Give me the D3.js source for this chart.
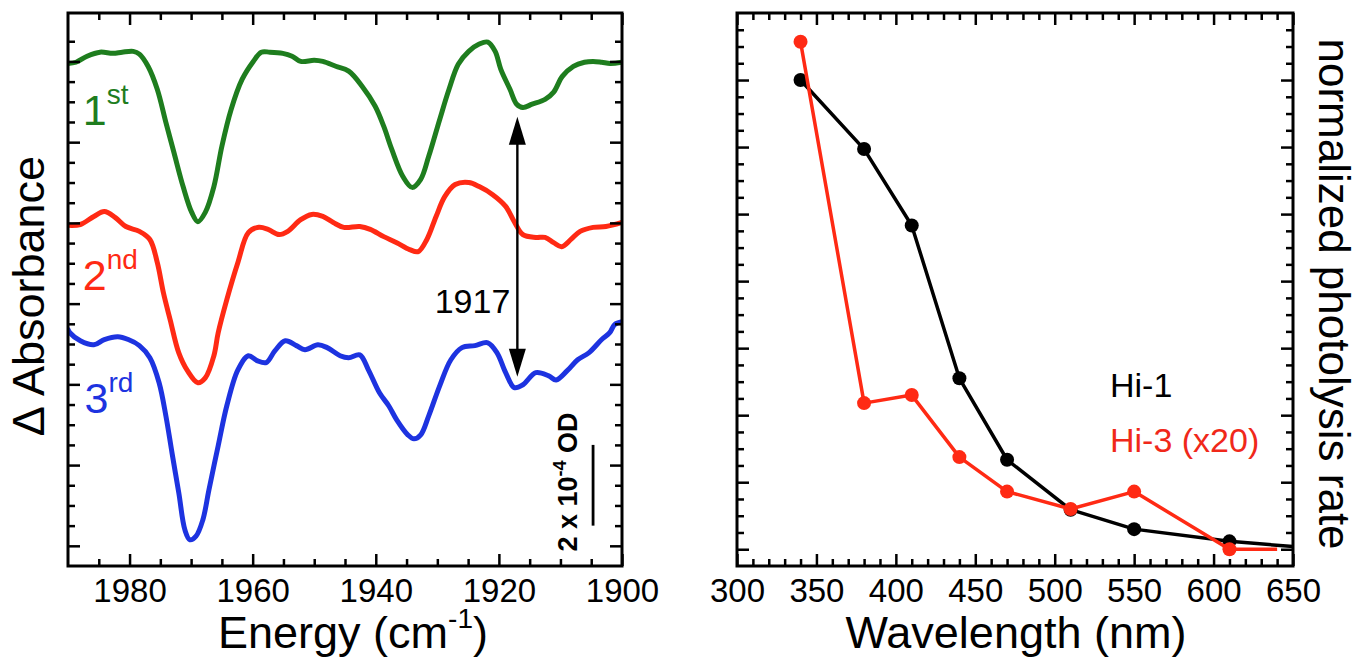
<!DOCTYPE html>
<html><head><meta charset="utf-8">
<script src="https://cdn.jsdelivr.net/npm/d3@7"></script>
<style>
html,body{margin:0;padding:0;background:#fff;}
text{font-family:"Liberation Sans",Arial,Helvetica,sans-serif;}
</style></head>
<body><svg id="c" width="1359" height="666"></svg>
<script>
// ---------------- DATA ----------------
// Left panel: IR difference spectra (energy in cm^-1, value in 10^-4 OD units incl. vertical offset)
const green1st = [[1990,11.95],[1988.7,11.98],[1986.9,12.13],[1984.8,12.23],[1982.7,12.20],[1981.2,12.23],[1979.4,12.25],[1978.4,12.18],[1977.0,11.88],[1975.5,11.31],[1974.1,10.49],[1972.8,9.75],[1971.3,8.90],[1969.9,8.26],[1968.9,8.03],[1967.7,8.26],[1966.3,8.90],[1965.0,9.90],[1963.5,10.81],[1961.7,11.56],[1959.9,12.00],[1958.6,12.23],[1957.2,12.23],[1955.1,12.20],[1953.6,12.13],[1952.2,12.00],[1950.0,12.03],[1948.6,12.00],[1946.5,11.88],[1944.4,11.76],[1942.2,11.38],[1940.1,10.89],[1938.7,10.39],[1937.4,9.82],[1935.6,9.15],[1934.1,8.88],[1932.7,9.08],[1931.4,9.65],[1929.6,10.57],[1928.1,11.31],[1926.6,11.93],[1924.9,12.25],[1923.2,12.43],[1921.8,12.48],[1920.6,12.25],[1919.7,11.81],[1918.2,11.31],[1917.1,10.94],[1916.1,10.86],[1914.6,10.94],[1912.5,11.06],[1911.1,11.24],[1909.7,11.63],[1907.9,11.88],[1906.1,11.98],[1904.7,12.00],[1903.3,11.98],[1901.9,11.95],[1900,11.98]];
const red2nd = [[1990,7.94],[1988.0,7.96],[1985.8,8.16],[1984.1,8.28],[1982.3,8.13],[1980.6,7.91],[1978.4,7.79],[1976.7,7.59],[1975.5,7.02],[1974.5,6.27],[1973.4,5.60],[1972.0,4.78],[1970.6,4.34],[1968.9,4.04],[1967.7,4.16],[1966.3,4.71],[1965.6,5.28],[1964.2,6.10],[1962.4,7.02],[1960.7,7.76],[1959.0,7.89],[1957.5,7.84],[1955.7,7.71],[1954.3,7.79],[1952.2,8.08],[1950.4,8.21],[1948.6,8.16],[1946.9,8.01],[1945.2,7.89],[1942.6,7.91],[1940.9,7.84],[1938.7,7.66],[1936.6,7.51],[1934.5,7.34],[1933.1,7.29],[1931.7,7.59],[1930.2,8.16],[1928.8,8.65],[1927.1,8.95],[1924.9,9.00],[1923.2,8.90],[1921.0,8.70],[1918.9,8.41],[1917.5,8.03],[1916.1,7.71],[1914.0,7.64],[1912.5,7.64],[1911.1,7.51],[1909.8,7.41],[1908.3,7.59],[1906.8,7.79],[1904.7,7.89],[1902.6,7.91],[1900,8.01]];
const blue3rd = [[1990,5.36],[1989.7,5.28],[1988.0,5.08],[1985.8,4.98],[1984.1,5.11],[1981.9,5.18],[1980.2,5.11],[1978.4,4.96],[1976.7,4.66],[1975.2,4.04],[1974.1,3.22],[1973.1,2.30],[1972.0,1.31],[1971.0,0.39],[1970.2,0.15],[1969.2,0.24],[1968.1,0.64],[1967.1,1.39],[1965.6,2.48],[1964.2,3.47],[1962.4,4.36],[1960.7,4.71],[1959.3,4.59],[1957.8,4.54],[1956.4,4.83],[1954.7,5.08],[1952.9,4.96],[1951.5,4.86],[1949.4,4.98],[1947.9,4.91],[1945.8,4.71],[1944.4,4.66],[1942.6,4.73],[1941.2,4.36],[1939.4,3.79],[1937.9,3.47],[1936.6,3.12],[1934.8,2.75],[1933.8,2.65],[1932.7,2.75],[1931.4,3.22],[1929.6,3.97],[1927.8,4.61],[1926.0,4.91],[1923.9,4.96],[1921.8,5.03],[1920.3,4.78],[1918.9,4.29],[1917.5,3.92],[1916.1,3.99],[1914.0,4.29],[1911.9,4.21],[1910.7,4.11],[1908.9,4.34],[1907.2,4.61],[1905.4,4.78],[1903.3,5.11],[1902.0,5.28],[1901.2,5.48],[1900,5.55]];
const energyTicks = [1980,1960,1940,1920,1900];
const energyTickLabels = ["1980","1960","1940","1920","1900"];
const absMajorTicks = [0,2,4,6,8,10,12];
const traceLabels = [
  {base:"1", sup:"st", E:1987.6, v:10.42},
  {base:"2", sup:"nd", E:1987.6, v:6.33},
  {base:"3", sup:"rd", E:1987.3, v:3.30}
];
const arrowE = 1917, arrowTop = 10.63, arrowBottom = 4.19, arrowLabel = "1917";
const scaleBarE = 1904.7, scaleBarFrom = 0.5, scaleBarTo = 2.5;

// Right panel: normalized photolysis rate vs wavelength
const wavelengths = [340,380,410,440,470,510,550,610,650];
const hi1Rate = [7.00,5.97,4.83,2.55,1.335,0.59,0.30,0.118,0.04];
const wavelengths3 = [340,380,410,440,470,510,550,610,640];
const hi3Rate = [7.57,2.18,2.30,1.375,0.86,0.60,0.86,0.0,0.0];
const markerMaxWl = 610;
const wlTicks = [300,350,400,450,500,550,600,650];
const wlTickLabels = ["300","350","400","450","500","550","600","650"];
const rateMajorTicks = [0,1,2,3,4,5,6,7];
const legendItems = [{text:"Hi-1", color:"#000000"},{text:"Hi-3 (x20)", color:"#f0281a"}];

// ---------------- DRAW ----------------
const svg = d3.select("#c");
const GREEN="#1e7d1e", RED="#ff2a14", BLUE="#1d33e0";
const yTop=13, yBot=566;

const xL = d3.scaleLinear().domain([1990,1900]).range([68,622]);
const yL = d3.scaleLinear().domain([-0.5,13.2]).range([yBot,yTop]);
const xR = d3.scaleLinear().domain([300,650]).range([737,1293]);
const yR = d3.scaleLinear().domain([-0.25,8]).range([yBot,yTop]);

function frame(x, y, xMajor, xMinor, yMajor, yMinor, labels, pad){
  const g = svg.append("g");
  const [x0,x1] = x.range(), y0 = y.range()[1], y1 = y.range()[0];
  const add = (axis, tx, ty, keepText) => {
    const a = g.append("g").attr("transform",`translate(${tx},${ty})`).call(axis);
    a.select(".domain").remove();
    a.selectAll(".tick line").attr("stroke","#000").attr("stroke-width",2.5);
    if(!keepText) a.selectAll(".tick text").remove();
    return a;
  };
  add(d3.axisBottom(x).tickValues(xMinor).tickSize(-7),0,y1);
  const b = add(d3.axisBottom(x).tickValues(xMajor).tickSize(-12).tickPadding(pad).tickFormat((d,i)=>labels[i]),0,y1,true);
  b.selectAll("text").attr("font-size",33).attr("fill","#000").attr("font-family",'"Liberation Sans",Arial,sans-serif');
  add(d3.axisTop(x).tickValues(xMinor).tickSize(-7),0,y0);
  add(d3.axisTop(x).tickValues(xMajor).tickSize(-12),0,y0);
  add(d3.axisLeft(y).tickValues(yMinor).tickSize(-7),x0,0);
  add(d3.axisLeft(y).tickValues(yMajor).tickSize(-12),x0,0);
  add(d3.axisRight(y).tickValues(yMinor).tickSize(-7),x1,0);
  add(d3.axisRight(y).tickValues(yMajor).tickSize(-12),x1,0);
  g.append("rect").attr("x",x0).attr("y",y0).attr("width",x1-x0).attr("height",y1-y0)
    .attr("fill","none").attr("stroke","#000").attr("stroke-width",3);
  return g;
}

// clip paths
const defs = svg.append("defs");
defs.append("clipPath").attr("id","clipL").append("rect").attr("x",68).attr("y",yTop).attr("width",554).attr("height",yBot-yTop);
defs.append("clipPath").attr("id","clipR").append("rect").attr("x",737).attr("y",yTop).attr("width",556).attr("height",yBot-yTop);

// ---- Left panel
const lineL = d3.line().x(d=>xL(d[0])).y(d=>yL(d[1])).curve(d3.curveCatmullRom.alpha(0.5));
const gl = svg.append("g").attr("clip-path","url(#clipL)");
[[green1st,GREEN],[red2nd,RED],[blue3rd,BLUE]].forEach(([data,col])=>{
  gl.append("path").datum(data).attr("d",lineL).attr("fill","none").attr("stroke",col)
    .attr("stroke-width",5).attr("stroke-linejoin","round").attr("stroke-linecap","round");
});
frame(xL,yL,energyTicks,d3.range(1985,1900,-5).filter(v=>v%20!==0),absMajorTicks,d3.range(1,26).map(i=>i*0.5).filter(v=>v%2!==0),energyTickLabels,13);

// trace labels
const labCols=[GREEN,RED,BLUE];
traceLabels.forEach((t,i)=>{
  const tx = svg.append("text").attr("x",xL(t.E)).attr("y",yL(t.v)).attr("fill",labCols[i]).attr("font-size",43);
  tx.append("tspan").text(t.base);
  tx.append("tspan").attr("dy",-21).attr("font-size",28).text(t.sup);
});

// arrow 1917
const ax = xL(arrowE), ayT = yL(arrowTop), ayB = yL(arrowBottom);
svg.append("line").attr("x1",ax).attr("x2",ax).attr("y1",ayT+20).attr("y2",ayB-20).attr("stroke","#000").attr("stroke-width",2.4);
svg.append("path").attr("d",`M${ax},${ayT} L${ax-8.5},${ayT+28} L${ax+8.5},${ayT+28} Z`).attr("fill","#000");
svg.append("path").attr("d",`M${ax},${ayB} L${ax-8.5},${ayB-28} L${ax+8.5},${ayB-28} Z`).attr("fill","#000");
svg.append("text").attr("x",ax-7).attr("y",313).attr("text-anchor","end").attr("font-size",34).attr("fill","#000").text(arrowLabel);

// scale bar
const sbx = xL(scaleBarE);
svg.append("line").attr("x1",sbx).attr("x2",sbx).attr("y1",yL(scaleBarTo)).attr("y2",yL(scaleBarFrom)).attr("stroke","#000").attr("stroke-width",2.8);
const sbt = svg.append("text").attr("transform",`translate(577,482) rotate(-90)`).attr("text-anchor","middle")
  .attr("font-size",27).attr("font-weight","bold").attr("fill","#000");
sbt.append("tspan").text("2 x 10");
sbt.append("tspan").attr("dy",-11).attr("font-size",18).text("-4");
sbt.append("tspan").attr("dy",11).text(" OD");

// axis titles left
svg.append("text").attr("transform","translate(44,296) rotate(-90)").attr("text-anchor","middle")
  .attr("font-size",45).attr("fill","#000").text("\u0394 Absorbance");
const et = svg.append("text").attr("x",353).attr("y",648).attr("text-anchor","middle").attr("font-size",45).attr("fill","#000");
et.append("tspan").text("Energy (cm");
et.append("tspan").attr("dy",-20).attr("font-size",28).text("-1");
et.append("tspan").attr("dy",20).text(")");

// ---- Right panel
const gr = svg.append("g").attr("clip-path","url(#clipR)");
const lineR = d3.line().x(d=>xR(d[0])).y(d=>yR(d[1]));
const hi1 = wavelengths.map((w,i)=>[w,hi1Rate[i]]);
const hi3 = wavelengths3.map((w,i)=>[w,hi3Rate[i]]);
gr.append("path").datum(hi1).attr("d",lineR).attr("fill","none").attr("stroke","#000").attr("stroke-width",3.5).attr("stroke-linejoin","round");
gr.selectAll("circle.h1").data(hi1.filter(d=>d[0]<=markerMaxWl)).join("circle").attr("class","h1")
  .attr("cx",d=>xR(d[0])).attr("cy",d=>yR(d[1])).attr("r",7).attr("fill","#000");
gr.append("path").datum(hi3).attr("d",lineR).attr("fill","none").attr("stroke",RED).attr("stroke-width",3.5).attr("stroke-linejoin","round");
gr.selectAll("circle.h3").data(hi3.filter(d=>d[0]<=markerMaxWl)).join("circle").attr("class","h3")
  .attr("cx",d=>xR(d[0])).attr("cy",d=>yR(d[1])).attr("r",7).attr("fill",RED);
frame(xR,yR,wlTicks,d3.range(31,65).map(i=>i*10).filter(v=>v%50!==0),rateMajorTicks,d3.range(1,32).map(i=>i*0.25).filter(v=>v%1!==0),wlTickLabels,13);

// legend
legendItems.forEach((l,i)=>{
  svg.append("text").attr("x",1110).attr("y",397+i*55).attr("font-size",34).attr("fill",l.color).text(l.text);
});

// titles right
svg.append("text").attr("x",1016).attr("y",648).attr("text-anchor","middle").attr("font-size",45).attr("fill","#000").text("Wavelength (nm)");
svg.append("text").attr("transform","translate(1319,294) rotate(90)").attr("text-anchor","middle")
  .attr("font-size",44).attr("fill","#000").text("normalized photolysis rate");
</script></body></html>
